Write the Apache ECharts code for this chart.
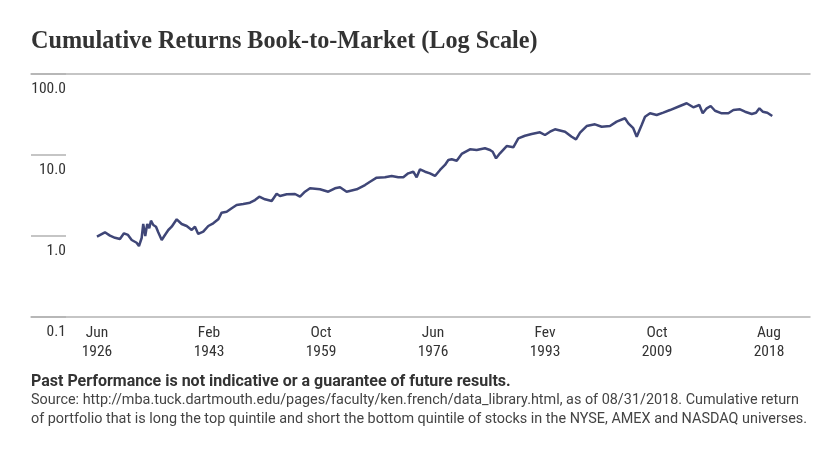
<!DOCTYPE html>
<html>
<head>
<meta charset="utf-8">
<script src="https://cdn.jsdelivr.net/npm/echarts@6/dist/echarts.min.js"></script>
<style>
html,body{margin:0;padding:0;background:#fff;}
#chart{width:840px;height:460px;}
</style>
</head>
<body>
<div id="chart"></div>
<script>
// Tick labels along the bottom axis (equally spaced in the original chart)
var tickLabels = ["Jun\n1926", "Feb\n1943", "Oct\n1959", "Jun\n1976", "Fev\n1993", "Oct\n2009", "Aug\n2018"];
var tickPositions = [0, 1, 2, 3, 4, 5, 6];
// Position of each point along the axis, in tick-label units (0 = Jun 1926, 6 = Aug 2018)
var positions = [0,0.071,0.116,0.161,0.205,0.241,0.277,0.310,0.354,0.375,0.399,0.413,0.431,0.449,0.467,0.482,0.503,0.527,0.547,0.578,
0.607,0.637,0.667,0.712,0.756,0.801,0.846,0.875,0.904,0.949,0.994,1.038,1.083,1.113,1.158,1.203,1.247,1.306,1.366,1.411,
1.449,1.5,1.560,1.604,1.634,1.694,1.768,1.813,1.857,1.902,1.991,2.065,2.125,2.170,2.229,2.319,2.393,2.438,2.497,2.571,
2.631,2.690,2.735,2.779,2.824,2.854,2.884,2.929,2.973,3.018,3.063,3.107,3.137,3.167,3.212,3.256,3.330,3.390,3.464,3.509,
3.533,3.563,3.598,3.658,3.717,3.762,3.821,3.881,3.955,4.0,4.045,4.089,4.179,4.238,4.277,4.313,4.372,4.446,4.506,4.580,
4.640,4.714,4.744,4.788,4.819,4.863,4.893,4.938,4.997,5.056,5.116,5.205,5.265,5.324,5.378,5.408,5.444,5.479,5.518,5.578,
5.637,5.682,5.741,5.786,5.846,5.884,5.914,5.944,5.985,6.029];
// Cumulative return (log scale)
var cumReturns = [0.98,1.11,1.01,0.95,0.918,1.08,1.03,0.893,0.826,0.753,0.945,1.41,1.0,1.41,1.245,1.545,1.367,1.303,1.11,0.893,
1.03,1.186,1.303,1.607,1.406,1.329,1.186,1.303,1.06,1.13,1.329,1.435,1.607,1.94,1.995,2.198,2.41,2.48,2.58,2.78,
3.06,2.84,2.70,3.33,3.12,3.27,3.30,3.06,3.52,3.88,3.77,3.52,3.88,3.99,3.52,3.77,4.26,4.68,5.25,5.31,
5.51,5.31,5.31,5.94,6.22,5.31,6.66,6.22,5.94,5.51,6.53,7.53,8.67,8.85,8.51,10.3,11.75,11.53,12.1,11.53,
10.98,9.10,10.5,12.9,12.45,16.07,17.3,18.16,19.05,17.66,19.4,20.76,19.4,16.8,15.6,18.85,22.8,23.9,22.35,22.8,
25.8,28.4,24.6,21.4,16.8,23.5,29.7,32.7,31.2,33.3,35.9,40.3,43.5,38.8,41.4,32.7,37.7,40.3,35.2,32.7,
32.7,35.9,36.6,34.2,32.1,33.3,37.7,34.2,33.3,30.3];
var yTicks = [0.1, 1, 10, 100];

var seriesData = positions.map(function (p, i) { return [p, cumReturns[i]]; });

var condensed = '"Roboto Condensed", "Liberation Sans Narrow", "Arial Narrow", Roboto, sans-serif';
var regular = 'Roboto, "Liberation Sans", sans-serif';
var chart = echarts.init(document.getElementById('chart'), null, {renderer: 'canvas'});
chart.setOption({
  backgroundColor: '#ffffff',
  animation: false,
  title: {
    text: 'Cumulative Returns Book-to-Market (Log Scale)',
    left: 31, top: 30, padding: 0,
    textStyle: {fontFamily: '"Liberation Serif", "DejaVu Serif", serif', fontWeight: 'bold', fontSize: 24.2, color: '#333333'}
  },
  grid: {left: 31, right: 30, top: 74, bottom: 143},
  xAxis: [{
    type: 'value', min: -0.589, max: 6.366, position: 'bottom',
    axisLine: {show: true, onZero: false, lineStyle: {color: '#b3b3b3', width: 1.5}},
    axisTick: {show: false},
    splitLine: {show: false},
    axisLabel: {
      customValues: tickPositions,
      formatter: function (v) { return tickLabels[Math.round(v)]; },
      fontFamily: condensed, fontSize: 15.5, color: '#333333', lineHeight: 19, margin: 7
    }
  }, {
    type: 'value', min: -0.589, max: 6.366, position: 'top',
    axisLine: {show: true, onZero: false, lineStyle: {color: '#b3b3b3', width: 1.5}},
    axisTick: {show: false}, axisLabel: {show: false}, splitLine: {show: false}
  }],
  yAxis: {
    type: 'log', logBase: 10, min: 0.1, max: 100,
    axisLine: {show: false, onZero: false},
    axisTick: {show: true, inside: true, length: 35, customValues: yTicks, lineStyle: {color: '#b3b3b3', width: 1.5}},
    splitLine: {show: false},
    axisLabel: {
      inside: true, align: 'right', margin: 35, verticalAlign: 'top', padding: [7, 0, 0, 0],
      customValues: yTicks,
      formatter: function (v) { return Number(v).toFixed(1); },
      fontFamily: condensed, fontSize: 15.5, color: '#333333'
    }
  },
  series: [{
    type: 'line', data: seriesData, xAxisIndex: 0, showSymbol: false,
    lineStyle: {color: '#3f4677', width: 2.5}
  }],
  graphic: [
    {type: 'text', left: 31, top: 374, style: {text: 'Past Performance is not indicative or a guarantee of future results.', font: 'bold 16px ' + regular, fill: '#333333'}},
    {type: 'text', left: 31, top: 393, style: {text: 'Source: http://mba.tuck.dartmouth.edu/pages/faculty/ken.french/data_library.html, as of 08/31/2018. Cumulative return', font: '14.4px ' + regular, fill: '#444444'}},
    {type: 'text', left: 31, top: 412, style: {text: 'of portfolio that is long the top quintile and short the bottom quintile of stocks in the NYSE, AMEX and NASDAQ universes.', font: '14.4px ' + regular, fill: '#444444'}}
  ]
});
</script>
</body>
</html>
